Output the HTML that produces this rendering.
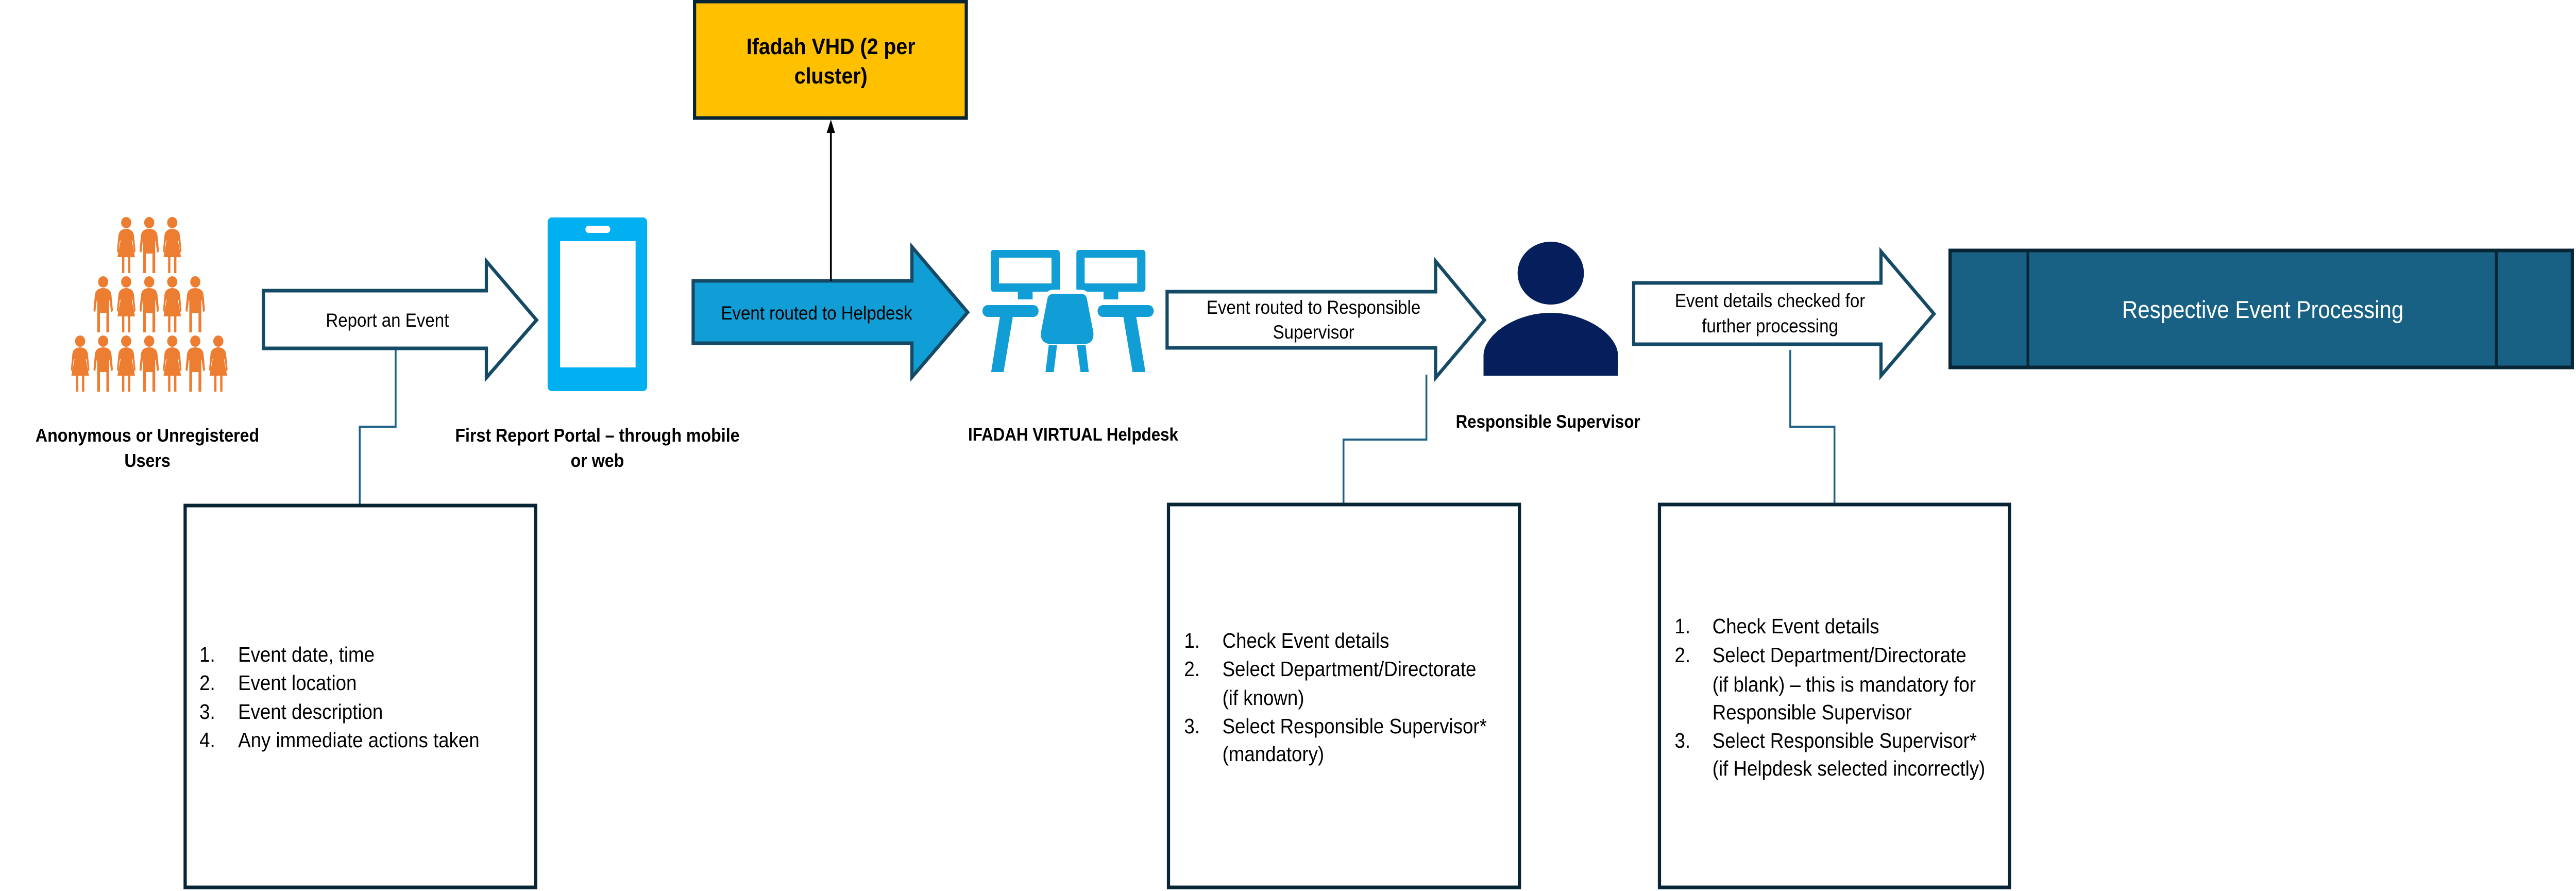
<!DOCTYPE html>
<html><head><meta charset="utf-8"><style>
html,body{margin:0;padding:0;background:#fff;overflow:hidden;width:100%;height:100%;}
svg{display:block;position:absolute;left:0;top:0;width:100vw;height:100vh;}
text{font-family:"Liberation Sans",Arial,sans-serif;fill:#000;}
.b{font-weight:bold;}
</style></head><body>
<svg viewBox="0 0 5593 1729" preserveAspectRatio="none" xmlns="http://www.w3.org/2000/svg">
<defs>
<g id="w" fill="#ED7D31">
  <ellipse cx="0" cy="10" rx="11" ry="11"/>
  <path d="M-9,24 Q0,20 9,24 Q16,27 17,36 L20,64 Q20,68 17,68 L14,46 L12,44 L19,77 L-19,77 L-12,44 L-14,46 L-17,68 Q-20,68 -20,64 L-17,36 Q-16,27 -9,24 Z"/>
  <rect x="-9" y="77" width="5" height="31"/>
  <rect x="4" y="77" width="5" height="31"/>
</g>
<g id="m" fill="#ED7D31">
  <ellipse cx="0" cy="10" rx="11" ry="11"/>
  <path d="M-10,24 Q0,20 10,24 Q17,27 18,36 L21,64 Q21,68 17,68 L14,46 L13,46 L13,108 L7,108 L7,70 L-7,70 L-7,108 L-13,108 L-13,46 L-14,46 L-17,68 Q-21,68 -21,64 L-18,36 Q-17,27 -10,24 Z"/>
  <rect x="-2" y="70" width="4" height="38" fill="#fff"/>
</g>
</defs>

<use href="#w" x="274" y="422"/><use href="#m" x="324" y="422"/><use href="#w" x="374" y="422"/>
<use href="#m" x="224" y="537"/><use href="#w" x="274" y="537"/><use href="#m" x="324" y="537"/><use href="#w" x="374" y="537"/><use href="#m" x="424" y="537"/>
<use href="#w" x="174" y="652"/><use href="#m" x="224" y="652"/><use href="#w" x="274" y="652"/><use href="#m" x="324" y="652"/><use href="#w" x="374" y="652"/><use href="#m" x="424" y="652"/><use href="#w" x="474" y="652"/>

<text class="b" x="320" y="857" font-size="36" text-anchor="middle">Anonymous or Unregistered</text>
<text class="b" x="320" y="906" font-size="36" text-anchor="middle">Users</text>

<path d="M572,564 L1056,564 L1056,507 L1165,621 L1056,733 L1056,676 L572,676 Z" fill="#fff" stroke="#154A66" stroke-width="7"/>
<text x="841" y="634" font-size="37" text-anchor="middle">Report an Event</text>

<rect x="1189" y="422" width="216" height="337" rx="9" fill="#00B0F0"/>
<rect x="1216" y="468" width="164" height="245" fill="#fff"/>
<rect x="1271" y="438" width="54" height="14" rx="7" fill="#fff"/>
<text class="b" x="1297" y="857" font-size="36" text-anchor="middle">First Report Portal – through mobile</text>
<text class="b" x="1297" y="906" font-size="36" text-anchor="middle">or web</text>

<path d="M859,679 L859,828 L781,828 L781,978" fill="none" stroke="#1C6186" stroke-width="4"/>
<rect x="402" y="981" width="761" height="741" fill="#fff" stroke="#082535" stroke-width="7"/>
<g font-size="41">
<text x="433" y="1284">1.</text><text x="517" y="1284">Event date, time</text>
<text x="433" y="1339">2.</text><text x="517" y="1339">Event location</text>
<text x="433" y="1395">3.</text><text x="517" y="1395">Event description</text>
<text x="433" y="1450">4.</text><text x="517" y="1450">Any immediate actions taken</text>
</g>

<rect x="1508" y="3" width="590" height="226" fill="#FFC000" stroke="#082535" stroke-width="7"/>
<text class="b" x="1804" y="105" font-size="44" text-anchor="middle">Ifadah VHD (2 per</text>
<text class="b" x="1804" y="162" font-size="44" text-anchor="middle">cluster)</text>

<path d="M1505,545 L1980,545 L1980,479 L2101,606 L1980,732 L1980,666 L1505,666 Z" fill="#119ED6" stroke="#154A66" stroke-width="7"/>
<line x1="1804" y1="545" x2="1804" y2="255" stroke="#000" stroke-width="4"/>
<path d="M1804,232 L1795,258 L1813,258 Z" fill="#000"/>
<text x="1773" y="620" font-size="37" text-anchor="middle">Event routed to Helpdesk</text>

<g fill="#119ED6">
  <rect x="2151" y="485" width="150" height="81" rx="6"/>
  <rect x="2337" y="485" width="150" height="81" rx="6"/>
  <rect x="2210" y="566" width="32" height="15"/>
  <rect x="2396" y="566" width="32" height="15"/>
  <rect x="2133" y="592" width="122" height="23" rx="11.5"/>
  <rect x="2383" y="592" width="122" height="23" rx="11.5"/>
  <path d="M2171,615 L2199,615 L2179,722 L2152,722 Z"/>
  <path d="M2439,615 L2467,615 L2487,722 L2459,722 Z"/>
</g>
<rect x="2169" y="500" width="114" height="50" fill="#fff"/>
<rect x="2355" y="500" width="114" height="50" fill="#fff"/>
<path d="M2290,566 L2344,566 Q2362,566 2364,580 L2378,645 Q2380,672 2350,672 L2286,672 Q2254,672 2256,645 L2270,580 Q2272,566 2290,566 Z" fill="#119ED6" stroke="#fff" stroke-width="8"/>
<path d="M2277,670 L2295,670 L2288,722 L2270,722 Z" fill="#119ED6"/>
<path d="M2338,670 L2357,670 L2364,722 L2346,722 Z" fill="#119ED6"/>
<text class="b" x="2330" y="855" font-size="35" text-anchor="middle">IFADAH VIRTUAL Helpdesk</text>

<path d="M2534,566 L3117,566 L3117,507 L3223,621 L3117,733 L3117,675 L2534,675 Z" fill="#fff" stroke="#154A66" stroke-width="7"/>
<text x="2852" y="609" font-size="37" text-anchor="middle">Event routed to Responsible</text>
<text x="2852" y="657" font-size="37" text-anchor="middle">Supervisor</text>

<ellipse cx="3367" cy="530" rx="72" ry="61" fill="#041F5B"/>
<path d="M3221,729 L3221,690 C3221,650 3290,607 3367,607 C3444,607 3513,650 3513,690 L3513,729 Z" fill="#041F5B"/>
<text class="b" x="3361" y="830" font-size="35" text-anchor="middle">Responsible Supervisor</text>

<path d="M3097,727 L3097,853 L2917,853 L2917,976" fill="none" stroke="#1C6186" stroke-width="4"/>
<rect x="2537" y="979" width="762" height="743" fill="#fff" stroke="#082535" stroke-width="7"/>
<g font-size="41">
<text x="2571" y="1257">1.</text><text x="2654" y="1257">Check Event details</text>
<text x="2571" y="1312">2.</text><text x="2654" y="1312">Select Department/Directorate</text>
<text x="2654" y="1368">(if known)</text>
<text x="2571" y="1423">3.</text><text x="2654" y="1423">Select Responsible Supervisor*</text>
<text x="2654" y="1477">(mandatory)</text>
</g>

<path d="M3547,549 L4084,549 L4084,488 L4199,609 L4084,729 L4084,668 L3547,668 Z" fill="#fff" stroke="#154A66" stroke-width="7"/>
<text x="3843" y="596" font-size="37" text-anchor="middle">Event details checked for</text>
<text x="3843" y="645" font-size="37" text-anchor="middle">further processing</text>

<path d="M3887,679 L3887,828 L3983,828 L3983,976" fill="none" stroke="#1C6186" stroke-width="4"/>
<rect x="3603" y="979" width="760" height="743" fill="#fff" stroke="#082535" stroke-width="7"/>
<g font-size="41">
<text x="3636" y="1229">1.</text><text x="3718" y="1229">Check Event details</text>
<text x="3636" y="1285">2.</text><text x="3718" y="1285">Select Department/Directorate</text>
<text x="3718" y="1342">(if blank) – this is mandatory for</text>
<text x="3718" y="1396">Responsible Supervisor</text>
<text x="3636" y="1451">3.</text><text x="3718" y="1451">Select Responsible Supervisor*</text>
<text x="3718" y="1505">(if Helpdesk selected incorrectly)</text>
</g>

<rect x="4234" y="486" width="1351" height="227" fill="#186184" stroke="#082535" stroke-width="7"/>
<line x1="4403" y1="486" x2="4403" y2="713" stroke="#082535" stroke-width="6"/>
<line x1="5420" y1="486" x2="5420" y2="713" stroke="#082535" stroke-width="6"/>
<text x="4913" y="617" font-size="47" text-anchor="middle" style="fill:#fff">Respective Event Processing</text>
</svg>
</body></html>
